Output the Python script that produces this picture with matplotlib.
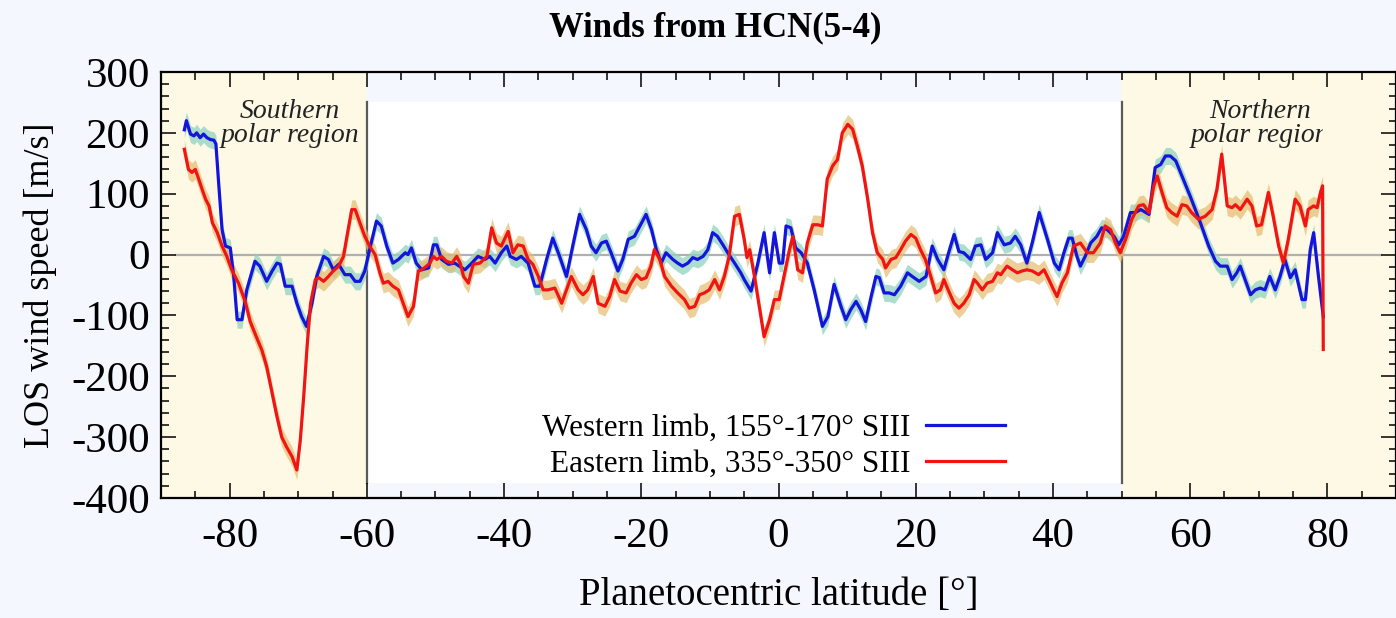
import matplotlib
matplotlib.use("Agg")
import matplotlib.pyplot as plt
import numpy as np
from matplotlib.patches import Rectangle
from matplotlib.transforms import Bbox, TransformedBbox

plt.rcParams['font.family'] = ['Liberation Serif', 'DejaVu Serif']
plt.rcParams['axes.unicode_minus'] = False

# western limb (blue)
lat_w = [-86.6, -86.3, -85.7, -85.2, -84.8, -84.3, -83.8, -83.3, -82.8, -82.3, -82.0, -81.6,
         -81.1, -80.6, -79.9, -79.4, -78.9, -78.2, -77.5, -76.3, -75.6, -74.6, -73.8, -73.1,
         -72.6, -71.9, -70.9, -70.2, -69.5, -68.8, -68.0, -67.3, -66.3, -65.6, -64.9, -64.1,
         -63.2, -62.4, -61.7, -61.0, -60.3, -59.6, -58.6, -57.9, -57.1, -56.2, -55.4, -54.4,
         -54.0, -53.5, -52.8, -52.0, -51.0, -50.3, -49.8, -49.1, -48.1, -47.2, -45.7, -44.7,
         -43.8, -42.8, -42.1, -41.3, -40.4, -39.6, -39.1, -38.2, -37.5, -36.5, -35.5, -34.8,
         -33.8, -32.9, -31.9, -30.9, -29.9, -29.0, -28.0, -27.3, -26.6, -25.8, -25.1, -24.4,
         -23.4, -22.7, -21.9, -21.0, -20.2, -19.3, -18.5, -17.8, -17.1, -16.4, -15.4, -14.7,
         -14.0, -13.2, -12.5, -11.8, -11.0, -10.3, -9.6, -8.9, -8.1, -7.4, -6.4, -5.5,
         -5.0, -4.0, -3.0, -2.1, -1.3, -0.6, 0.1, 0.6, 1.1, 1.8, 2.5, 3.3,
         4.2, 5.2, 6.4, 7.2, 8.1, 9.1, 9.8, 10.5, 11.3, 12.0, 12.7, 13.5,
         14.2, 14.7, 15.4, 16.1, 16.9, 17.8, 18.8, 19.5, 20.5, 21.5, 22.4, 23.2,
         24.1, 24.8, 25.6, 26.3, 27.0, 28.0, 28.7, 29.5, 30.2, 31.2, 31.9, 32.9,
         33.8, 34.5, 35.3, 36.2, 37.0, 38.0, 39.2, 40.2, 40.9, 41.6, 42.3, 42.8,
         43.5, 44.0, 44.7, 45.5, 46.4, 47.1, 47.9, 48.9, 49.6, 50.3, 51.3, 52.0,
         52.8, 54.0, 54.9, 55.7, 56.4, 57.1, 57.9, 58.8, 60.0, 61.5, 62.7, 63.7,
         64.4, 65.4, 66.1, 66.8, 67.3, 68.0, 68.8, 69.5, 70.2, 70.9, 71.6, 72.4,
         73.1, 73.8, 74.6, 75.3, 76.3, 76.8, 77.5, 78.0, 78.7, 79.4]
v_w = [205, 220, 198, 195, 200, 192, 198, 192, 189, 188, 182, 118,
       41, 14, 11, -36, -107, -107, -58, -11, -19, -44, -27, -14,
       -16, -52, -52, -80, -102, -118, -80, -36, -3, -8, -25, -16,
       -33, -33, -44, -44, -27, 8, 55, 47, 14, -14, -8, 3,
       0, 11, -14, -25, -22, 16, 16, -8, -16, -14, -25, -14,
       -3, -8, -3, -14, 3, 14, -3, -8, -3, -14, -52, -52,
       -8, 27, -3, -36, 19, 66, 41, 14, 3, 19, 22, 3,
       -27, -8, 25, 30, 47, 66, 41, 8, -14, 3, -8, -14,
       -19, -14, -5, -8, -3, 8, 36, 30, 16, 3, -14, -30,
       -41, -60, -14, 36, -30, 36, -14, -14, 47, 44, 11, 3,
       -14, -58, -118, -102, -49, -85, -107, -91, -77, -91, -110, -69,
       -36, -38, -63, -63, -66, -52, -30, -36, -44, -36, 14, -8,
       -25, 3, 33, 5, 3, -8, 14, 16, -8, 3, 36, 16,
       19, 30, 16, -14, 20, 69, 25, -14, -25, 3, 27, 27,
       -3, -19, -3, 19, 30, 44, 41, 30, 16, 30, 69, 69,
       74, 66, 143, 148, 162, 162, 154, 129, 96, 52, 14, -11,
       -19, -19, -41, -30, -19, -41, -66, -58, -55, -58, -36, -58,
       -36, -8, -38, -25, -74, -74, 8, 36, -36, -102]

# eastern limb (red)
lat_e = [-86.6, -86.0, -85.5, -85.0, -84.5, -84.0, -83.5, -83.0, -82.5, -81.8, -81.1, -80.4,
         -79.7, -78.7, -77.7, -77.0, -76.0, -75.3, -74.6, -73.8, -73.1, -72.4, -71.7, -70.9,
         -70.2, -69.7, -69.2, -68.7, -68.2, -67.5, -67.0, -66.3, -65.6, -64.9, -64.1, -63.4,
         -62.9, -62.2, -61.7, -61.0, -60.3, -59.6, -58.8, -58.1, -57.6, -56.9, -56.2, -55.4,
         -54.7, -54.0, -53.2, -52.5, -52.0, -51.3, -50.8, -50.3, -49.8, -49.1, -48.4, -47.6,
         -46.9, -46.4, -45.9, -45.2, -44.5, -43.5, -42.5, -41.8, -41.1, -40.4, -39.4, -38.7,
         -38.0, -37.2, -36.5, -35.8, -35.0, -34.3, -33.6, -32.6, -31.6, -30.9, -30.2, -29.2,
         -28.5, -27.8, -27.0, -26.3, -25.3, -24.6, -23.9, -23.1, -22.2, -21.5, -20.7, -20.0,
         -19.3, -18.6, -18.1, -17.3, -16.6, -15.6, -14.7, -13.7, -13.0, -12.2, -11.5, -10.8,
         -10.1, -9.3, -8.6, -7.9, -7.2, -6.4, -5.7, -5.0, -4.6, -4.2, -3.5, -2.8,
         -2.1, -1.3, -0.6, 0.1, 0.8, 1.6, 2.1, 2.8, 3.5, 4.2, 5.0, 5.7,
         6.4, 7.1, 7.9, 8.6, 9.3, 10.1, 10.8, 11.5, 12.2, 13.0, 13.7, 14.4,
         15.2, 15.6, 16.4, 17.1, 17.8, 18.5, 19.3, 20.0, 20.7, 21.4, 22.2, 22.9,
         23.6, 24.1, 24.8, 25.6, 26.3, 27.0, 27.8, 28.5, 29.0, 29.7, 30.4, 31.2,
         31.9, 32.4, 33.3, 34.1, 34.8, 35.5, 36.2, 37.0, 37.9, 38.7, 39.4, 40.1,
         40.6, 41.3, 42.1, 43.0, 44.0, 45.0, 45.9, 46.9, 47.6, 48.4, 49.1, 49.8,
         50.6, 51.5, 52.5, 53.2, 54.0, 54.7, 55.2, 55.9, 56.6, 57.3, 58.1, 58.8,
         59.5, 60.2, 61.2, 62.2, 63.2, 63.9, 64.6, 65.4, 66.1, 66.6, 67.3, 68.3,
         69.0, 69.7, 70.4, 71.4, 72.1, 72.9, 73.6, 74.3, 75.3, 76.0, 76.8, 77.2,
         78.0, 78.5, 79.0, 79.3, 79.4]
v_e = [173, 140, 135, 140, 124, 107, 91, 80, 52, 36, 14, -3,
       -25, -47, -78, -110, -138, -157, -184, -228, -266, -300, -316, -332,
       -354, -305, -233, -150, -80, -41, -38, -44, -36, -27, -19, -3,
       30, 74, 74, 52, 30, 14, 0, -30, -47, -44, -52, -58,
       -80, -102, -85, -27, -25, -19, -14, -3, -8, -3, -11, -14,
       -3, -14, -36, -47, -16, -14, -3, 44, 19, 14, 38, 3,
       16, 14, -8, -16, -36, -58, -58, -55, -80, -58, -36, -58,
       -66, -58, -36, -80, -85, -69, -41, -60, -63, -47, -33, -41,
       -38, -19, 8, -8, -36, -52, -63, -74, -88, -85, -66, -63,
       -58, -41, -58, -36, -3, 63, 66, 25, -5, 8, -36, -85,
       -135, -107, -74, -74, -36, 8, 30, -25, -30, 19, 49, 49,
       47, 124, 146, 156, 200, 214, 206, 178, 146, 91, 36, 3,
       -8, -22, -8, -5, 8, 22, 33, 27, 8, -8, -36, -63,
       -58, -41, -60, -80, -88, -80, -66, -41, -47, -58, -47, -44,
       -30, -33, -19, -25, -30, -27, -25, -27, -33, -25, -41, -58,
       -69, -47, -30, 14, 19, 3, 3, 19, 47, 41, 19, 3,
       25, 58, 80, 82, 69, 113, 129, 102, 77, 69, 63, 82,
       80, 69, 58, 63, 74, 107, 165, 80, 77, 82, 74, 91,
       80, 47, 49, 102, 63, 14, -14, 25, 91, 80, 47, 74,
       80, 77, 102, 113, -156]

err_w = 14
err_e = 16

legend_labels = ['Western limb, 155°-170° SIII', 'Eastern limb, 335°-350° SIII']

bg = '#f4f7fd'
cream = '#fdf9e5'

fig = plt.figure(figsize=(13.96, 6.18), dpi=100, facecolor=bg)
ax = fig.add_axes([161 / 1396, 120 / 618, 1235 / 1396, 426 / 618])
ax.set_facecolor(bg)
ax.set_xlim(-90, 90)
ax.set_ylim(-400, 300)

# polar regions and white inset
ax.axvspan(-90, -60, color=cream, zorder=0, lw=0)
ax.axvspan(50, 90, color=cream, zorder=0, lw=0)
ax.add_patch(Rectangle((-60, -375), 110, 625, facecolor='white', edgecolor='none', zorder=0.5))
ax.plot([-60, -60], [-375, 250], color='#5a5a5a', lw=1.6, zorder=1)
ax.plot([50, 50], [-375, 250], color='#5a5a5a', lw=1.6, zorder=1)
ax.axhline(0, xmin=0.012, xmax=0.988, color='#b0b0b0', lw=1.6, zorder=1)

lw_ = np.array(lat_w); vw = np.array(v_w)
le = np.array(lat_e); ve = np.array(v_e)
ax.fill_between(lw_, vw - err_w, vw + err_w, color='#8fd3c0', alpha=0.75, lw=0, zorder=2)
ax.fill_between(le, ve - err_e, ve + err_e, color='#e6bb6e', alpha=0.7, lw=0, zorder=2.1)
lb, = ax.plot(lw_, vw, color='#1414dc', lw=2.3, zorder=3, label=legend_labels[0])
lr, = ax.plot(le, ve, color='#f01414', lw=2.3, zorder=3.1, label=legend_labels[1])

ax.text(-71.2, 216, 'Southern\npolar region', style='italic', fontsize=20,
        ha='center', va='center', linespacing=0.95, color='#222222', zorder=4)
tn = ax.text(70.2, 216, 'Northern\npolar region', style='italic', fontsize=20,
             ha='center', va='center', linespacing=0.95, color='#222222', zorder=4)
tn.set_clip_box(TransformedBbox(Bbox([[-90, -400], [79.4, 300]]), ax.transData))
tn.set_clip_on(True)

leg = ax.legend(handles=[lb, lr], loc='center right', bbox_to_anchor=(0.683, 0.122),
                frameon=False, markerfirst=False, fontsize=22.5, handlelength=2.5,
                handletextpad=0.5, labelspacing=0.22, borderpad=0, borderaxespad=0)

ax.set_xticks(np.arange(-80, 81, 20))
ax.set_xticks(np.arange(-90, 91, 5), minor=True)
ax.set_yticks(np.arange(-400, 301, 100))
ax.set_yticks(np.arange(-400, 301, 20), minor=True)
ax.tick_params(which='both', direction='in', top=True, right=True, width=1.1,
               labelsize=31, color='black')
ax.tick_params(which='major', length=10.8)
ax.tick_params(which='minor', length=5.4)
ax.tick_params(axis='x', pad=14)
ax.tick_params(axis='y', pad=8)
for s in ax.spines.values():
    s.set_linewidth(1.6)

ax.set_xlabel('Planetocentric latitude [°]', fontsize=28, labelpad=15)
ax.set_ylabel('LOS wind speed [m/s]', fontsize=26, labelpad=10)
fig.text(715 / 1396, 1 - 28 / 618, 'Winds from HCN(5-4)', fontsize=25, fontweight='bold',
         ha='center', va='center')

fig.savefig('out.png', dpi=100, facecolor=bg)
